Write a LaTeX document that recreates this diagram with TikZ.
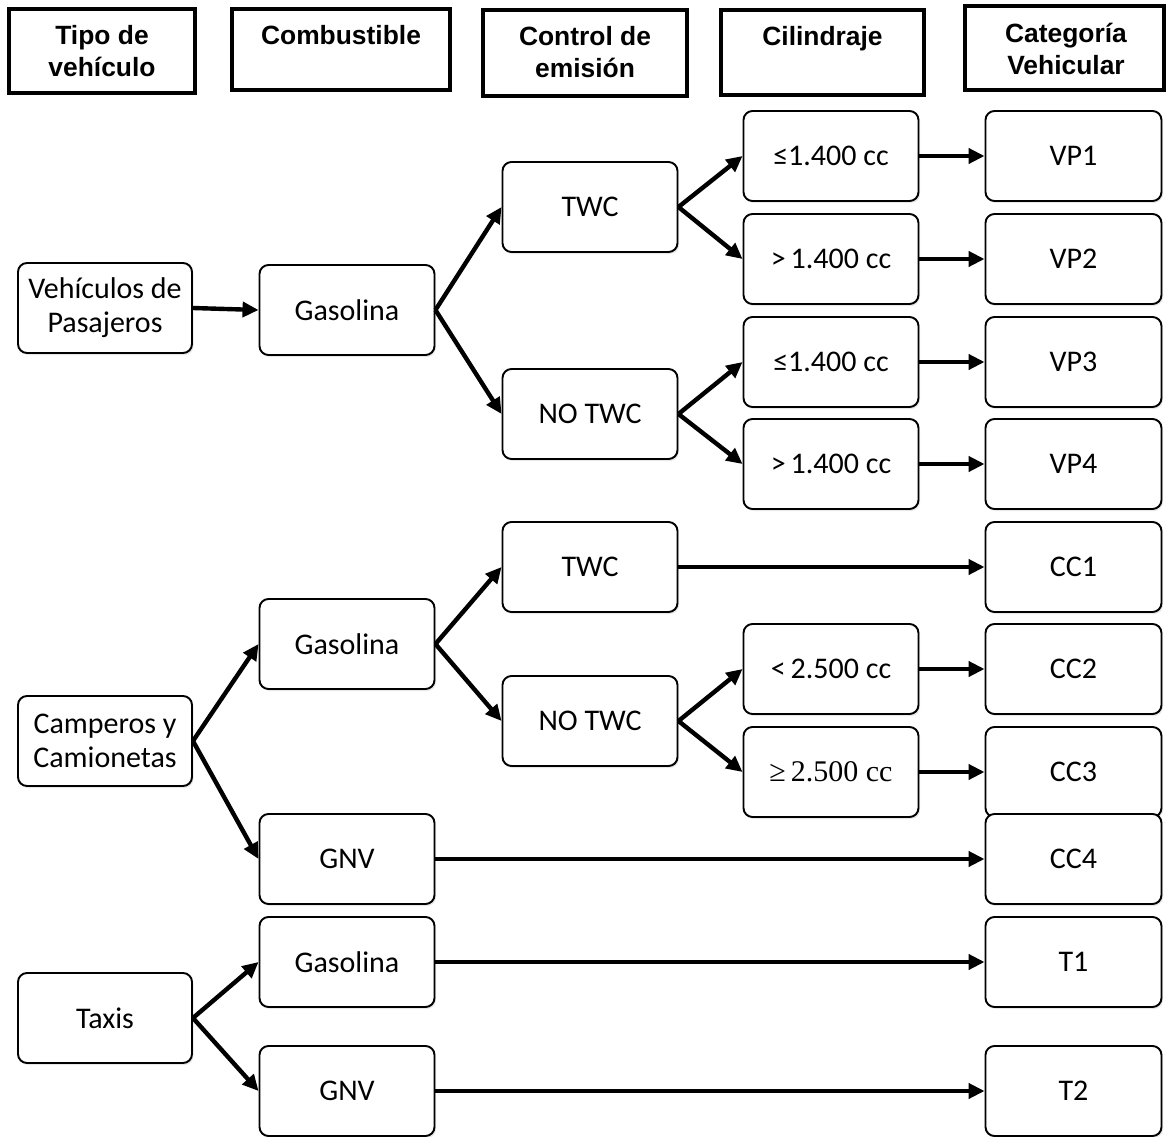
\documentclass[tikz,border=0pt]{standalone}
\usepackage{fontspec}
\setmainfont{Carlito}
\newfontfamily\hdrfont{Liberation Sans}
\newfontfamily\serfont{Liberation Serif}
\usetikzlibrary{arrows.meta,shadows}

\begin{document}
\begin{tikzpicture}[x=1pt,y=-1pt,
  hdrbox/.style={draw, line width=4pt, inner sep=0pt},
  hdrtxt/.style={anchor=base, inner sep=0pt, align=center,
    font=\hdrfont\bfseries\fontsize{26.4}{32}\selectfont},
  box/.style={draw, line width=1.9pt, rounded corners=9pt, fill=white,
    minimum width=175pt, minimum height=90pt, inner sep=0pt, align=center,
    font=\fontsize{30}{34}\selectfont,
    drop shadow={shadow xshift=1.5pt, shadow yshift=-2pt, opacity=0.18}},
  catbox/.style={box, minimum width=176pt},
  arr/.style={line width=4.4pt, -{Triangle[length=16pt,width=15pt]}},
]
\useasboundingbox (0,0) rectangle (1168,1137);

% column headings (text placed by the baseline of its last line)
\node[hdrbox, minimum width=186pt, minimum height=84pt] (hTipo) at (102,51) {};
\node[hdrtxt] (tTipo) at (102,77) {Tipo de\\vehículo};
\node[hdrbox, minimum width=218pt, minimum height=81pt] (hComb) at (341,49.5) {};
\node[hdrtxt] (tComb) at (341,45) {Combustible};
\node[hdrbox, minimum width=204pt, minimum height=86pt] (hCtrl) at (585,53) {};
\node[hdrtxt] (tCtrl) at (585,78) {Control de\\emisión};
\node[hdrbox, minimum width=203pt, minimum height=85pt] (hCil) at (822.5,52.5) {};
\node[hdrtxt] (tCil) at (822.5,46) {Cilindraje};
\node[hdrbox, minimum width=199pt, minimum height=84pt] (hCat) at (1064.5,48) {};
\node[hdrtxt] (tCat) at (1066,75) {Categoría\\Vehicular};

% passenger vehicles
\node[box, minimum width=174pt] (vp) at (105,308) {Vehículos de\\Pasajeros};
\node[box] (g1) at (347,310) {Gasolina};
\node[box] (twc1) at (590,207) {TWC};
\node[box] (ntwc1) at (590,414) {NO TWC};
\node[box] (c1) at (831,156) {≤1.400 cc};
\node[box] (c2) at (831,259) {>\,1.400 cc};
\node[box] (c3) at (831,362) {≤1.400 cc};
\node[box] (c4) at (831,464) {>\,1.400 cc};
\node[catbox] (vp1) at (1073.5,156) {VP1};
\node[catbox] (vp2) at (1073.5,259) {VP2};
\node[catbox] (vp3) at (1073.5,362) {VP3};
\node[catbox] (vp4) at (1073.5,464) {VP4};

% jeeps and pick-ups
\node[box, minimum width=174pt] (cam) at (105,741) {Camperos y\\Camionetas};
\node[box] (g2) at (347,644) {Gasolina};
\node[box] (twc2) at (590,567) {TWC};
\node[box] (ntwc2) at (590,721) {NO TWC};
\node[box] (c5) at (831,669) {<\,2.500 cc};
\node[box] (c6) at (831,772) {\serfont ≥\,2.500 cc};
\node[box] (gnv1) at (347,859) {GNV};
\node[catbox] (cc1) at (1073.5,567) {CC1};
\node[catbox] (cc2) at (1073.5,669) {CC2};
\node[catbox] (cc3) at (1073.5,772) {CC3};
\node[catbox] (cc4) at (1073.5,859) {CC4};

% taxis
\node[box, minimum width=174pt] (tax) at (105,1018) {Taxis};
\node[box] (g3) at (347,962) {Gasolina};
\node[box] (gnv2) at (347,1091) {GNV};
\node[catbox] (t1) at (1073.5,962) {T1};
\node[catbox] (t2) at (1073.5,1091) {T2};

% connectors
\draw[arr] (vp.east) -- (g1.west);
\draw[arr] (g1.east) -- (twc1.west);
\draw[arr] (g1.east) -- (ntwc1.west);
\draw[arr] (twc1.east) -- (c1.west);
\draw[arr] (twc1.east) -- (c2.west);
\draw[arr] (ntwc1.east) -- (c3.west);
\draw[arr] (ntwc1.east) -- (c4.west);
\draw[arr] (c1.east) -- (vp1.west);
\draw[arr] (c2.east) -- (vp2.west);
\draw[arr] (c3.east) -- (vp3.west);
\draw[arr] (c4.east) -- (vp4.west);

\draw[arr] (cam.east) -- (g2.west);
\draw[arr] (cam.east) -- (gnv1.west);
\draw[arr] (g2.east) -- (twc2.west);
\draw[arr] (g2.east) -- (ntwc2.west);
\draw[arr] (twc2.east) -- (cc1.west);
\draw[arr] (ntwc2.east) -- (c5.west);
\draw[arr] (ntwc2.east) -- (c6.west);
\draw[arr] (c5.east) -- (cc2.west);
\draw[arr] (c6.east) -- (cc3.west);
\draw[arr] (gnv1.east) -- (cc4.west);

\draw[arr] (tax.east) -- (g3.west);
\draw[arr] (tax.east) -- (gnv2.west);
\draw[arr] (g3.east) -- (t1.west);
\draw[arr] (gnv2.east) -- (t2.west);
\end{tikzpicture}
\end{document}
